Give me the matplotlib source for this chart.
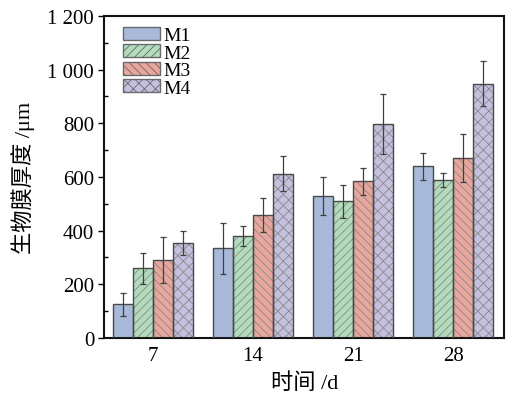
import numpy as np
import matplotlib
matplotlib.use("Agg")
import matplotlib.pyplot as plt
from matplotlib.ticker import MultipleLocator, FuncFormatter

plt.rcParams['font.family'] = ['Liberation Serif', 'Noto Sans CJK SC']
plt.rcParams['hatch.linewidth'] = 0.6

# biofilm thickness (um) at each sampling day
days = ["7", "14", "21", "28"]
series = ["M1", "M2", "M3", "M4"]
m1 = [125, 334, 529, 640]
m2 = [260, 379, 509, 589]
m3 = [290, 458, 583, 671]
m4 = [354, 612, 798, 947]
m1_err = [42, 96, 70, 50]
m2_err = [58, 38, 61, 27]
m3_err = [85, 64, 49, 89]
m4_err = [45, 65, 111, 84]

values = [m1, m2, m3, m4]
errors = [m1_err, m2_err, m3_err, m4_err]
colors = ["#a8b9d9", "#b2dcbc", "#e8a69d", "#c5bfe0"]
hatches = ["", "////", "\\\\\\\\", "xxx"]

fig = plt.figure(figsize=(5.12, 4.02), dpi=100)
ax = fig.add_axes([0.203, 0.157, 0.782, 0.801])

x = np.arange(1, len(days) + 1)
w = 0.2
for i, (vals, errs) in enumerate(zip(values, errors)):
    pos = x + (i - 1.5) * w
    # fill + hatch in a softer grey, outline drawn on top
    ax.bar(pos, vals, w, color=colors[i], hatch=hatches[i],
           edgecolor="#8a8a8a", linewidth=0, zorder=2)
    ax.bar(pos, vals, w, fill=False, edgecolor="#4a4a4a", linewidth=1.0,
           zorder=3)
    ax.errorbar(pos, vals, yerr=errs, fmt="none", ecolor="#404040",
                elinewidth=0.9, capsize=2.5, capthick=0.9, zorder=4)

# legend proxies carrying both fill and outline
handles = [plt.Rectangle((0, 0), 1, 1, facecolor=colors[i], hatch=hatches[i],
                         edgecolor="#6a6a6a", linewidth=1.0)
           for i in range(4)]
ax.legend(handles, series, loc="upper left", frameon=False, fontsize=14,
          handlelength=1.9, handleheight=0.68, handletextpad=0.2,
          labelspacing=0.0, borderaxespad=0.15,
          bbox_to_anchor=(0.02, 1.0))

ax.set_xlim(0.51, 4.51)
ax.set_ylim(0, 1200)
ax.set_xticks(x)
ax.set_xticklabels(days)
ax.yaxis.set_major_locator(MultipleLocator(200))
ax.yaxis.set_minor_locator(MultipleLocator(100))
ax.yaxis.set_major_formatter(FuncFormatter(
    lambda v, p: f"{int(v):,}".replace(",", " ")))

ax.tick_params(axis="y", which="major", direction="out", length=4,
               width=1.0, labelsize=15, pad=3)
ax.tick_params(axis="y", which="minor", direction="in", length=3, width=1.0)
ax.tick_params(axis="x", direction="in", length=3, width=1.5,
               labelsize=15, pad=6)

for s in ax.spines.values():
    s.set_linewidth(1.5)
    s.set_color("#111111")

ax.set_xlabel("时间 /d", fontsize=16, labelpad=5)
ax.set_ylabel("生物膜厚度 /μm", fontsize=16, labelpad=9)

fig.savefig("out.png", dpi=100)
